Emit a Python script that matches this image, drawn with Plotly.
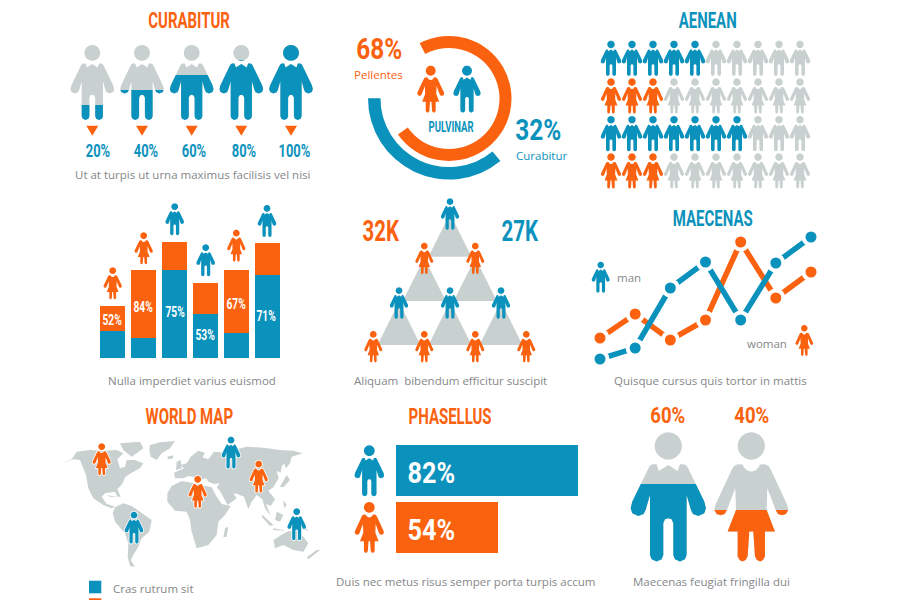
import math
import plotly.graph_objects as go

BLUE = "#0b92bc"
ORANGE = "#fb620f"
GREY = "#c9d1d0"
TXT = "#858789"
COND = "Roboto"
BODY = "Open Sans"

# ---------- data ----------
fill_levels = [20, 40, 60, 80, 100]
fill_labels = ["20%", "40%", "60%", "80%", "100%"]
aenean_counts = [5, 3, 7, 3]
aenean_kinds = ["m", "w", "m", "w"]
aenean_total = 10
ring_orange = 73
ring_blue = 36
stack_blue = [27, 20, 88, 44, 25, 83]
stack_orange = [25, 68, 28, 31, 63, 32]
stack_labels = ["52%", "84%", "75%", "53%", "67%", "71%"]
stack_kinds = ["w", "w", "m", "m", "w", "m"]
line_man = [1, 12, 72, 98, 40, 97, 123]
line_woman = [22, 46, 20, 40, 118, 62, 88]
line_x = [0, 1, 2, 3, 4, 5, 6]
hbar_labels = ["82%", "54%"]
hbar_lengths = [182, 102]
big_levels = [60, 40]

# ---------- icon geometry ----------
MAN = [(0,195),(28,213),(35,193),(48,193),(56,198),(62,210),(108,305),(113,325),(108,340),(90,348),
       (74,342),(68,330),(55,285),(55,465),(50,478),(35,485),(20,478),(15,465),(15,370),(10,358),(0,355)]
WOMAN = [(0,215),(12,212),(22,203),(26,194),(41,193),(52,198),(58,208),(108,315),(111,330),(104,342),
         (92,346),(80,342),(74,332),(48,265),(46,330),(71,395),(41,395),(41,470),(35,480),(27,485),
         (17,480),(11,470),(6,395),(0,395)]


def circle(cx, cy, r, n=24):
    return [(cx + r * math.cos(2 * math.pi * i / n), cy + r * math.sin(2 * math.pi * i / n)) for i in range(n)]


def person_polys(kind):
    half = MAN if kind == "m" else WOMAN
    body = half + [(-x, y) for x, y in reversed(half[1:-1])]
    return [circle(0, 138, 41), body]


def clip_below(poly, cut):
    out = []
    for i, p in enumerate(poly):
        q = poly[(i + 1) % len(poly)]
        if p[1] >= cut:
            out.append(p)
        if (p[1] >= cut) != (q[1] >= cut):
            t = (cut - p[1]) / (q[1] - p[1])
            out.append((p[0] + t * (q[0] - p[0]), cut))
    return out


layers = {"halo": [], GREY: [], BLUE: [], ORANGE: []}


def to_path(poly):
    return "M" + "L".join(f"{x:.2f},{y:.2f}" for x, y in poly) + "Z"


def person(kind, cx, top, h, color, level=None, base=GREY, halo=False):
    s = h / 388
    for poly in person_polys(kind):
        if level is not None:
            cut = 485 - 388 * level / 100
            clipped = clip_below(poly, cut)
            pts = [(cx + x * s, top + (y - 97) * s) for x, y in poly]
            layers[base].append(to_path(pts))
            if clipped:
                pts = [(cx + x * s, top + (y - 97) * s) for x, y in clipped]
                layers[color].append(to_path(pts))
        else:
            pts = [(cx + x * s, top + (y - 97) * s) for x, y in poly]
            layers[color].append(to_path(pts))
            if halo:
                layers["halo"].append(to_path(pts))


def kcol(k):
    return BLUE if k == "m" else ORANGE


# ---------- world map outline (crop coordinates) ----------
LAND = [
    [(0,192),(35,178),(50,155),(90,150),(130,152),(170,150),(190,160),(172,178),(180,205),(195,200),(200,180),
     (225,180),(250,190),(240,205),(215,218),(195,232),(188,250),(172,268),(182,290),(172,290),(165,275),(135,280),
     (125,290),(140,312),(165,320),(155,325),(130,315),(100,295),(85,265),(78,225),(60,180),(40,178)],
    [(270,135),(300,127),(345,123),(330,145),(305,160),(290,180),(272,170),(268,150)],
    [(180,130),(240,125),(250,145),(215,170),(190,150)],
    [(322,170),(340,166),(338,176),(324,177)],
    [(350,185),(362,180),(365,205),(348,210)],
    [(140,285),(175,292),(150,290)],
    [(165,322),(190,310),(215,318),(240,335),(275,360),(268,395),(245,415),(235,440),(220,465),(212,480),(225,500),
     (210,498),(203,470),(205,430),(195,400),(165,365),(158,340)],
    [(335,258),(365,243),(395,248),(420,255),(455,262),(470,290),(485,312),(512,318),(495,345),(475,365),(470,405),
     (445,435),(410,445),(395,395),(390,360),(380,335),(345,332),(322,305),(322,280)],
    [(495,385),(505,380),(500,410),(490,412)],
    [(345,235),(342,218),(355,212),(372,205),(362,195),(380,190),(392,170),(415,152),(435,158),(428,172),(445,178),
     (462,155),(500,158),(520,150),(560,140),(610,143),(660,150),(700,152),(728,160),(695,170),(690,190),(678,205),
     (672,190),(665,200),(662,218),(650,212),(656,235),(640,262),(625,272),(645,298),(632,318),(618,312),(632,348),
     (615,325),(607,298),(590,285),(575,305),(565,328),(552,290),(532,282),(520,280),(530,295),(503,315),(478,270),
     (470,262),(480,250),(462,252),(445,245),(438,235),(420,240),(408,232),(385,228),(370,235)],
    [(680,225),(690,240),(670,262),(660,260)],
    [(608,345),(640,375),(630,378),(605,350)],
    [(650,335),(670,345),(660,365),(645,360)],
    [(640,385),(680,392),(640,390)],
    [(690,365),(730,375),(745,392),(715,385)],
    [(670,300),(680,315),(672,325)],
    [(640,420),(680,395),(710,390),(730,410),(745,430),(730,455),(700,450),(670,435),(645,445)],
    [(770,450),(780,450),(745,478),(740,472)],
]
map_path = "".join(to_path([(60 + x / 3, 400 + y / 3) for x, y in poly]) for poly in LAND)

# ---------- people placement ----------
for cx, lv in zip([92.3, 142, 191.7, 241.3, 291], fill_levels):
    person("m", cx, 45, 75, BLUE, level=lv)

row_tops = [40.7, 78.3, 116, 153.3]
for r, top in enumerate(row_tops):
    for c in range(aenean_total):
        col = kcol(aenean_kinds[r]) if c < aenean_counts[r] else GREY
        person(aenean_kinds[r], 611 + 21 * c, top, 35.3, col)

person("w", 430.7, 65.7, 47, ORANGE)
person("m", 467, 65.7, 47, BLUE)

for cx, top, k in zip([112.7, 143.7, 174.7, 205.7, 236.3, 267],
                      [267.3, 232.3, 203.3, 244.3, 229.7, 205], stack_kinds):
    person(k, cx, top, 32, kcol(k))

pyr = [("m", 450, 198.3), ("w", 424.3, 242.7), ("w", 475.3, 242.7), ("m", 399, 287.3), ("m", 450, 287.3),
       ("m", 501, 287.3), ("w", 373.3, 331), ("w", 424.3, 331), ("w", 475.3, 331), ("w", 526.3, 331)]
for k, cx, top in pyr:
    person(k, cx, top, 31.5, kcol(k))

person("m", 600.7, 261.7, 31, BLUE)
person("w", 804.3, 325, 31, ORANGE)

for k, cx, top in [("w", 101.7, 443.3), ("m", 231, 436.7), ("w", 258.7, 460.7), ("w", 197.7, 476),
                   ("m", 134, 511.7), ("m", 296.7, 508.3)]:
    person(k, cx, top, 32, kcol(k), halo=True)

person("m", 369.3, 445.3, 51, BLUE)
person("w", 369.3, 502, 51, ORANGE)

person("m", 668.3, 432.3, 129.3, BLUE, level=big_levels[0])
person("w", 751.3, 432.3, 129.3, ORANGE, level=big_levels[1])

# ---------- shapes ----------
shapes = []


def add_path(path, color, line=None):
    shapes.append(dict(type="path", xref="x", yref="y", path=path, fillcolor=color,
                       line=dict(width=line[1], color=line[0]) if line else dict(width=0), layer="above"))


add_path(map_path, GREY)
tri = ""
for cx, base in [(450, 256.7), (424.3, 301), (475.3, 301), (399, 345), (450, 345), (501, 345)]:
    tri += to_path([(cx, base - 43.3), (cx + 21.5, base), (cx - 21.5, base)])
add_path(tri, GREY)
arrows = ""
for cx in [92.3, 142, 191.7, 241.3, 291]:
    arrows += to_path([(cx - 6, 125.7), (cx + 6, 125.7), (cx, 135.7)])
add_path(arrows, ORANGE)
add_path(to_path([(89, 580.7), (101.3, 580.7), (101.3, 593.3), (89, 593.3)]), BLUE)
add_path(to_path([(89, 598.3), (101.3, 598.3), (101.3, 600), (89, 600)]), ORANGE)
add_path("".join(layers["halo"]), "white", line=("white", 1.5))
add_path("".join(layers[GREY]), GREY)
add_path("".join(layers[BLUE]), BLUE)
add_path("".join(layers[ORANGE]), ORANGE)

# ---------- text ----------
annos = []


def text(x, y, s, size, color, family=COND, bold=False, anchor="center"):
    annos.append(dict(x=x, y=y, xref="x", yref="y", text=s, showarrow=False, xanchor=anchor, yanchor="middle",
                      font=dict(family=family, size=size, color=color, weight=700 if bold else 400), borderpad=0))


for x, y, s, c in [(189, 20, "CURABITUR", ORANGE), (707.7, 20, "AENEAN", BLUE), (712.7, 218.3, "MAECENAS", BLUE),
                   (189.3, 416, "WORLD MAP", ORANGE), (450, 416.7, "PHASELLUS", ORANGE)]:
    text(x, y, s, 22, c, bold=True)
for x, s in zip([98, 146, 194.3, 244, 294.3], fill_labels):
    text(x, 150, s, 19, BLUE, bold=True)
for x, y, s in [(193, 174, "Ut at turpis ut urna maximus facilisis vel nisi"),
                (192, 380, "Nulla imperdiet varius euismod"),
                (450, 380, "Aliquam  bibendum efficitur suscipit"),
                (710, 380, "Quisque cursus quis tortor in mattis"),
                (465.5, 581, "Duis nec metus risus semper porta turpis accum"),
                (711, 581, "Maecenas feugiat fringilla dui")]:
    text(x, y, s, 11.5, TXT, family=BODY)
text(112, 588, "Cras rutrum sit", 11.5, TXT, family=BODY, anchor="left")
text(629.3, 277.3, "man", 11.5, TXT, family=BODY)
text(767.3, 343.3, "woman", 11.5, TXT, family=BODY)
text(379.3, 48.5, "68%", 29, ORANGE, bold=True)
text(378, 74, "Pellentes", 11.5, ORANGE, family=BODY)
text(538, 130, "32%", 29, BLUE, bold=True)
text(541, 155.5, "Curabitur", 11.5, BLUE, family=BODY)
text(450.7, 126.7, "PULVINAR", 14, BLUE, bold=True)
text(381, 230.7, "32K", 30, ORANGE, bold=True)
text(519.7, 230.7, "27K", 30, BLUE, bold=True)
for x, y, s in zip([112.3, 143.3, 175, 205, 235.7, 266.3], [320, 306.7, 311.7, 335, 304.3, 315.7], stack_labels):
    text(x, y, s, 15, "white", bold=True)
for y, s in zip([472.7, 529.3], hbar_labels):
    text(431.7, y, s, 30, "white", bold=True)
text(667.7, 415.7, f"{big_levels[0]}%", 22, ORANGE, bold=True)
text(751.7, 415.7, f"{big_levels[1]}%", 22, ORANGE, bold=True)

# ---------- traces ----------
fig = go.Figure()
fig.add_trace(go.Scatter(x=[0], y=[0], mode="markers", marker=dict(opacity=0), showlegend=False, hoverinfo="skip"))


def pie_dom(r):
    return dict(x=[(449 - r) / 900, (449 + r) / 900], y=[1 - (98.5 + r) / 600, 1 - (98.5 - r) / 600])


fig.add_trace(go.Pie(values=[ring_orange, 100 - ring_orange], sort=False, direction="clockwise", rotation=-28,
                     hole=50.5 / 62.5, domain=pie_dom(62.5), textinfo="none", hoverinfo="skip", showlegend=False,
                     marker=dict(colors=[ORANGE, "rgba(0,0,0,0)"], line=dict(width=0))))
fig.add_trace(go.Pie(values=[ring_blue, 100 - ring_blue], sort=False, direction="clockwise", rotation=140.6,
                     hole=68.5 / 81, domain=pie_dom(81), textinfo="none", hoverinfo="skip", showlegend=False,
                     marker=dict(colors=[BLUE, "rgba(0,0,0,0)"], line=dict(width=0))))

xs = list(range(len(stack_blue)))
fig.add_trace(go.Bar(x=xs, y=stack_blue, marker=dict(color=BLUE, line=dict(width=0)), xaxis="x2", yaxis="y2", showlegend=False))
fig.add_trace(go.Bar(x=xs, y=stack_orange, marker=dict(color=ORANGE, line=dict(width=0)), xaxis="x2", yaxis="y2", showlegend=False))

for vals, col in [(line_woman, ORANGE), (line_man, BLUE)]:
    fig.add_trace(go.Scatter(x=line_x, y=vals, mode="lines", line=dict(color=col, width=5.5), xaxis="x3", yaxis="y3",
                             showlegend=False, cliponaxis=False))
    fig.add_trace(go.Scatter(x=line_x, y=vals, mode="markers", marker=dict(color="white", size=19), xaxis="x3", yaxis="y3",
                             showlegend=False, cliponaxis=False))
    fig.add_trace(go.Scatter(x=line_x, y=vals, mode="markers", marker=dict(color=col, size=11), xaxis="x3", yaxis="y3",
                             showlegend=False, cliponaxis=False))

fig.add_trace(go.Bar(y=[1, 0], x=hbar_lengths, orientation="h", marker=dict(color=[BLUE, ORANGE], line=dict(width=0)),
                     xaxis="x4", yaxis="y4", showlegend=False))


def hidden(**kw):
    return dict(visible=False, fixedrange=True, autorange=False, **kw)


fig.update_layout(
    width=900, height=600, margin=dict(l=0, r=0, t=0, b=0), autosize=False,
    paper_bgcolor="white", plot_bgcolor="white", barmode="stack", bargap=0.18,
    shapes=shapes, annotations=annos, hovermode=False, showlegend=False,
    xaxis=hidden(range=[0, 900], domain=[0, 1]),
    yaxis=hidden(range=[600, 0], domain=[0, 1]),
    xaxis2=hidden(range=[-0.41, 5.41], domain=[100 / 900, 280 / 900], anchor="y2"),
    yaxis2=hidden(range=[0, 118], domain=[1 - 358 / 600, 1 - 240 / 600], anchor="x2"),
    xaxis3=hidden(range=[0, 6], domain=[600 / 900, 811 / 900], anchor="y3"),
    yaxis3=hidden(range=[0, 124], domain=[1 - 360 / 600, 1 - 236 / 600], anchor="x3"),
    xaxis4=hidden(range=[0, 182.3], domain=[396 / 900, 578.3 / 900], anchor="y4"),
    yaxis4=hidden(range=[-0.5, 1.5], domain=[1 - 555.6 / 600, 1 - 442.4 / 600], anchor="x4"),
)
fig.data[-1].width = 0.9

POST = """
document.documentElement.style.margin='0';document.body.style.margin='0';document.body.style.overflow='hidden';
function squeeze(){document.querySelectorAll('.annotation-text').forEach(function(t){
  if(t.dataset.sq||t.style.fontFamily.indexOf('Roboto')<0)return;
  var big=/%$/.test(t.textContent)&&parseFloat(t.style.fontSize)>=20;
  var w=t.getComputedTextLength();t.setAttribute('textLength',(w*(big?0.84:0.68)).toFixed(1));
  t.setAttribute('lengthAdjust','spacingAndGlyphs');t.dataset.sq='1';});}
squeeze();setTimeout(squeeze,30);setTimeout(squeeze,150);
"""
fig.write_html("out.html", config={"displayModeBar": False}, post_script=POST)
